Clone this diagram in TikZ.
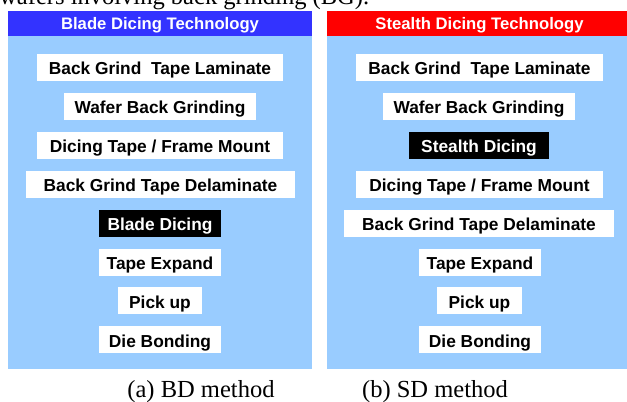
\documentclass[tikz,border=0pt]{standalone}
\usepackage{fontspec}
\setmainfont{Liberation Serif}
\setsansfont{Liberation Sans}
\usepackage{tikz}
\usetikzlibrary{positioning}

\definecolor{panelblue}{HTML}{99CCFF}
\definecolor{headblue}{HTML}{3333FF}
\definecolor{headred}{HTML}{FF0000}

\begin{document}
\begin{tikzpicture}[x=0.75pt, y=-0.75pt,
    stepbox/.style={fill=white, inner sep=0pt, minimum height=20.25pt,
      text height=10.8pt, text depth=0pt,
      font=\sffamily\bfseries\fontsize{13pt}{15pt}\selectfont},
    activebox/.style={stepbox, fill=black, text=white},
    headtext/.style={text=white, inner sep=0pt, text height=9pt, text depth=0pt,
      font=\sffamily\bfseries\fontsize{12.5pt}{14pt}\selectfont},
    caption/.style={anchor=base, inner sep=0pt, font=\fontsize{18.4pt}{22pt}\selectfont},
  ]
  \useasboundingbox (0,0) rectangle (627,401);

  % running text above the figure
  \node[anchor=base west, inner sep=0pt, font=\fontsize{18.4pt}{22pt}\selectfont]
    (runtext) at (-1,4.5) {wafers involving back grinding (BG).};

  % panels
  \fill[panelblue] (8,11) rectangle (312,369);
  \fill[headblue] (8,11) rectangle (312,36);
  \fill[panelblue] (327,11) rectangle (627,369);
  \fill[headred] (327,11) rectangle (627,36);

  \node[headtext] (bdhead) at (160,23.8) {Blade Dicing Technology};
  \node[headtext] (sdhead) at (479.5,23.8) {Stealth Dicing Technology};

  % blade dicing flow
  \node[stepbox, minimum width=184.5pt]  (bd1) at (160,67.5)  {Back Grind~~Tape Laminate};
  \node[stepbox, minimum width=144pt]    (bd2) at (160,106.4) {Wafer Back Grinding};
  \node[stepbox, minimum width=184.5pt]  (bd3) at (160,145.3) {Dicing Tape / Frame Mount};
  \node[stepbox, minimum width=201.75pt] (bd4) at (160.5,184.2) {Back Grind Tape Delaminate};
  \node[activebox, minimum width=91.5pt] (bd5) at (160,223.1) {Blade Dicing};
  \node[stepbox, minimum width=91.5pt]   (bd6) at (160,262)   {Tape Expand};
  \node[stepbox, minimum width=63pt]     (bd7) at (160,300.9) {Pick up};
  \node[stepbox, minimum width=91.5pt]   (bd8) at (160,339.8) {Die Bonding};

  % stealth dicing flow
  \node[stepbox, minimum width=185.25pt] (sd1) at (479.5,67.5)  {Back Grind~~Tape Laminate};
  \node[stepbox, minimum width=144pt]    (sd2) at (479,106.4)   {Wafer Back Grinding};
  \node[activebox, minimum width=105pt]  (sd3) at (479,145.3)   {Stealth Dicing};
  \node[stepbox, minimum width=185.25pt] (sd4) at (479.5,184.2) {Dicing Tape / Frame Mount};
  \node[stepbox, minimum width=202.5pt]  (sd5) at (479,223.1)   {Back Grind Tape Delaminate};
  \node[stepbox, minimum width=91.5pt]   (sd6) at (480,262)     {Tape Expand};
  \node[stepbox, minimum width=63.75pt]  (sd7) at (479.5,300.9) {Pick up};
  \node[stepbox, minimum width=91.5pt]   (sd8) at (480,339.8)   {Die Bonding};

  \node[caption] (bdcap) at (201,397.5) {(a) BD method};
  \node[caption] (sdcap) at (435,397.5) {(b) SD method};
\end{tikzpicture}
\end{document}
